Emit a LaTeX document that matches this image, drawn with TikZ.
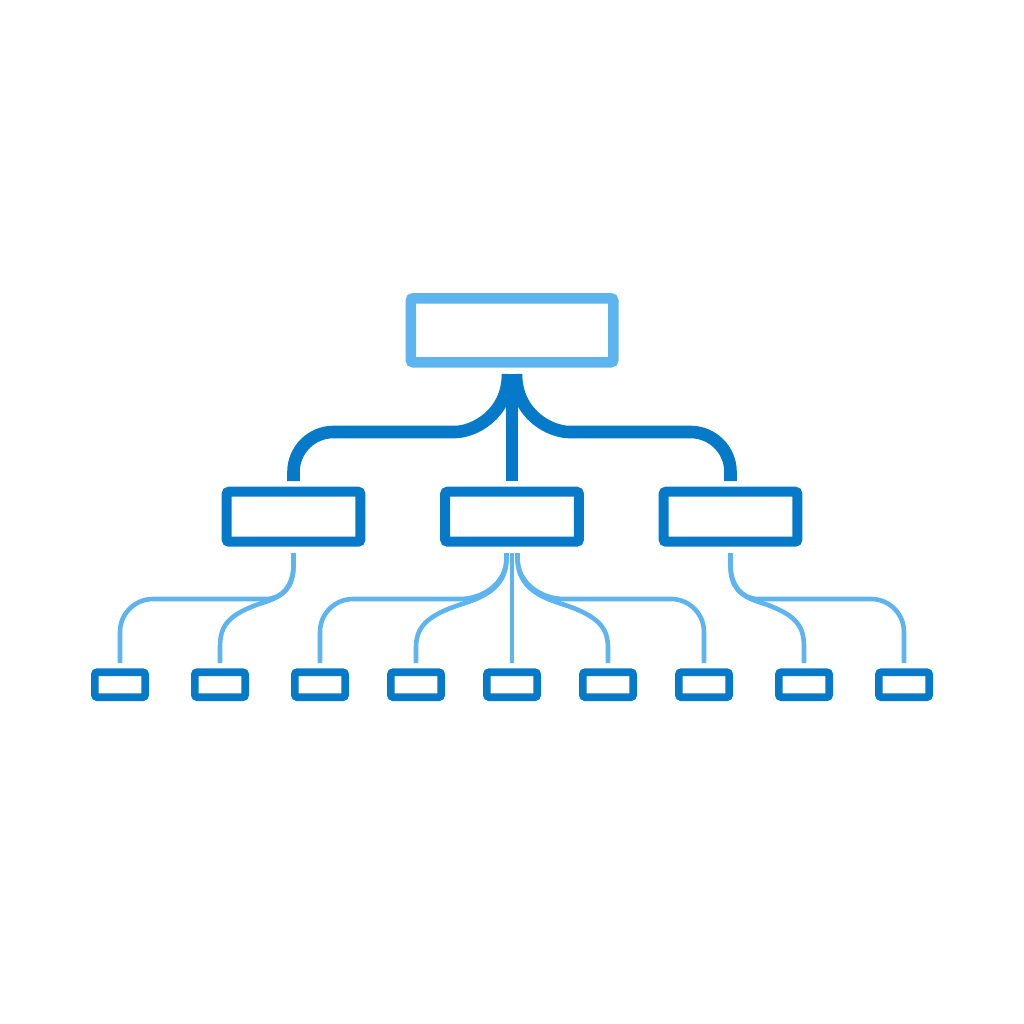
\documentclass[tikz,border=0pt]{standalone}
\definecolor{dkblue}{RGB}{7,121,201}
\definecolor{ltblue}{RGB}{93,180,238}
\begin{document}
\begin{tikzpicture}[x=1pt,y=-1pt,
 box/.style={draw, rectangle, inner sep=0pt, outer sep=0pt, rounded corners=2.5pt, fill=white},
 topbox/.style={box, draw=ltblue, line width=10.5pt, minimum width=202.5pt, minimum height=64pt},
 midbox/.style={box, draw=dkblue, line width=10pt, minimum width=133.8pt, minimum height=50pt},
 leafbox/.style={box, draw=dkblue, line width=7.7pt, minimum width=50.3pt, minimum height=25pt},
 trunk/.style={draw=dkblue, line width=12.6pt},
 twig/.style={draw=ltblue, line width=4.6pt}]
\useasboundingbox (0,0) rectangle (1024,1024);
% nodes
\node[topbox] (top) at (512,330.3) {};
\node[midbox] (m1) at (293.5,516.7) {};
\node[midbox] (m2) at (512,516.7) {};
\node[midbox] (m3) at (730.5,516.7) {};
\foreach \i/\x in {1/120,2/220,3/320,4/416,5/512,6/608,7/704,8/804,9/904}
  \node[leafbox] (l\i) at (\x,684.7) {};
% top level connectors
\coordinate (ts) at ([yshift=-11.7pt]top.south);
\draw[trunk] (ts) -- ([yshift=10.7pt]m2.north);
\draw[trunk] ([xshift=-4pt]ts) .. controls +(0,41) and +(18,0) .. (455,432)
  [rounded corners=40pt] -- (m1.north |- 0,432) -- ([yshift=10.7pt]m1.north);
\draw[trunk] ([xshift=4pt]ts) .. controls +(0,41) and +(-18,0) .. (569,432)
  [rounded corners=40pt] -- (m3.north |- 0,432) -- ([yshift=10.7pt]m3.north);
% left box twigs
\coordinate (a1) at ([yshift=-11.3pt]m1.south);
\draw[twig] (a1) -- ++(0,12) .. controls +(0,20) and +(16,0) .. (266,599)
  [rounded corners=33pt] -- (l1.north |- 0,599) -- ([yshift=9.2pt]l1.north);
\draw[twig] (a1) -- ++(0,12) .. controls (293.5,587) and (285,596) .. (262,603)
  .. controls (225,615.3) and (220,628) .. (l2.north |- 0,648) -- ([yshift=9.2pt]l2.north);
% middle box twigs
\coordinate (b1) at ([xshift=-5.5pt,yshift=-11.3pt]m2.south);
\coordinate (b0) at ([yshift=-11.3pt]m2.south);
\coordinate (b2) at ([xshift=5.5pt,yshift=-11.3pt]m2.south);
\draw[twig] (b1) -- ++(0,5) .. controls +(0,26) and +(22,0) .. (460,599)
  [rounded corners=33pt] -- (l3.north |- 0,599) -- ([yshift=9.2pt]l3.north);
\draw[twig] (b1) -- ++(0,5) .. controls (506.5,585) and (488,596) .. (462,604)
  .. controls (425,616) and (416,628) .. (l4.north |- 0,648) -- ([yshift=9.2pt]l4.north);
\draw[twig] (b0) -- ([yshift=9.2pt]l5.north);
\draw[twig] (b2) -- ++(0,5) .. controls (517.5,585) and (536,596) .. (562,604)
  .. controls (599,616) and (608,628) .. (l6.north |- 0,648) -- ([yshift=9.2pt]l6.north);
\draw[twig] (b2) -- ++(0,5) .. controls +(0,26) and +(-22,0) .. (564,599)
  [rounded corners=33pt] -- (l7.north |- 0,599) -- ([yshift=9.2pt]l7.north);
% right box twigs
\coordinate (a3) at ([yshift=-11.3pt]m3.south);
\draw[twig] (a3) -- ++(0,12) .. controls (730.5,587) and (739,596) .. (762,603)
  .. controls (799,615.3) and (804,628) .. (l8.north |- 0,648) -- ([yshift=9.2pt]l8.north);
\draw[twig] (a3) -- ++(0,12) .. controls +(0,20) and +(-16,0) .. (758,599)
  [rounded corners=33pt] -- (l9.north |- 0,599) -- ([yshift=9.2pt]l9.north);
\end{tikzpicture}
\end{document}
